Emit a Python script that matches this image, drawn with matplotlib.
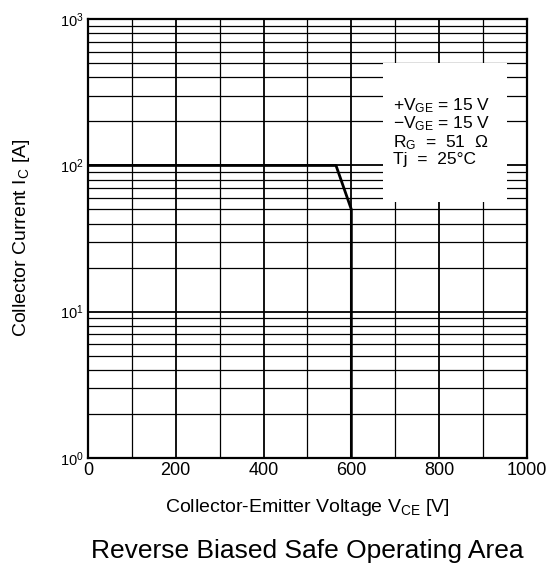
import matplotlib
matplotlib.use("Agg")
import matplotlib.pyplot as plt
from matplotlib.ticker import MultipleLocator, LogLocator, FixedLocator
from matplotlib.patches import Rectangle

plt.rcParams['font.family'] = ['Liberation Sans', 'DejaVu Sans']
plt.rcParams['mathtext.fontset'] = 'custom'
plt.rcParams['mathtext.rm'] = 'Liberation Sans'
plt.rcParams['mathtext.it'] = 'Liberation Sans'

# RBSOA boundary
vce = [0, 565, 600, 600]
ic = [100, 100, 50, 1]

x_ticks = [0, 200, 400, 600, 800, 1000]
y_ticks = [1, 10, 100, 1000]
y_labels = [r'$10^{0}$', r'$10^{1}$', r'$10^{2}$', r'$10^{3}$']

cond_lines = [r'+V$_{\mathrm{GE}}$ = 15 V',
              r'$-$V$_{\mathrm{GE}}$ = 15 V',
              r'R$_{\mathrm{G}}$  =  51  $\Omega$',
              r'Tj  =  25°C']

fig = plt.figure(figsize=(5.49, 5.66), dpi=100)
ax = fig.add_axes([0.160, 0.191, 0.800, 0.775])

ax.set_yscale('log')
ax.set_xlim(0, 1000)
ax.set_ylim(1, 1000)

ax.xaxis.set_major_locator(FixedLocator(x_ticks))
ax.xaxis.set_minor_locator(MultipleLocator(100))
ax.yaxis.set_major_locator(FixedLocator(y_ticks))
ax.yaxis.set_minor_locator(LogLocator(base=10, subs=range(2, 10)))
ax.set_xticklabels([str(v) for v in x_ticks], fontsize=13)
ax.set_yticklabels(y_labels, fontsize=10.5)
ax.tick_params(which='both', length=0, pad=3)

ax.grid(which='major', color='black', linewidth=1.3)
ax.grid(which='minor', color='black', linewidth=0.9)
for s in ax.spines.values():
    s.set_linewidth(1.6)

# white box for conditions
ax.add_patch(Rectangle((672, 56), 282, 444, facecolor='white', edgecolor='none',
                       zorder=2.5))
ax.text(0.695, 0.825, '\n'.join(cond_lines), transform=ax.transAxes, fontsize=12.5,
        va='top', ha='left', linespacing=1.0, zorder=3)

ax.plot(vce, ic, color='black', linewidth=2.0, zorder=4)

ax.set_xlabel(r'Collector-Emitter Voltage V$_{\mathrm{CE}}$ [V]', fontsize=14, labelpad=13)
ax.set_ylabel(r'Collector Current I$_{\mathrm{C}}$ [A]', fontsize=14)
ax.yaxis.set_label_coords(-0.128, 0.503)

fig.text(0.56, 0.0145, 'Reverse Biased Safe Operating Area', ha='center', va='baseline',
         fontsize=19, fontweight='medium')

fig.savefig('out.png', dpi=100)
